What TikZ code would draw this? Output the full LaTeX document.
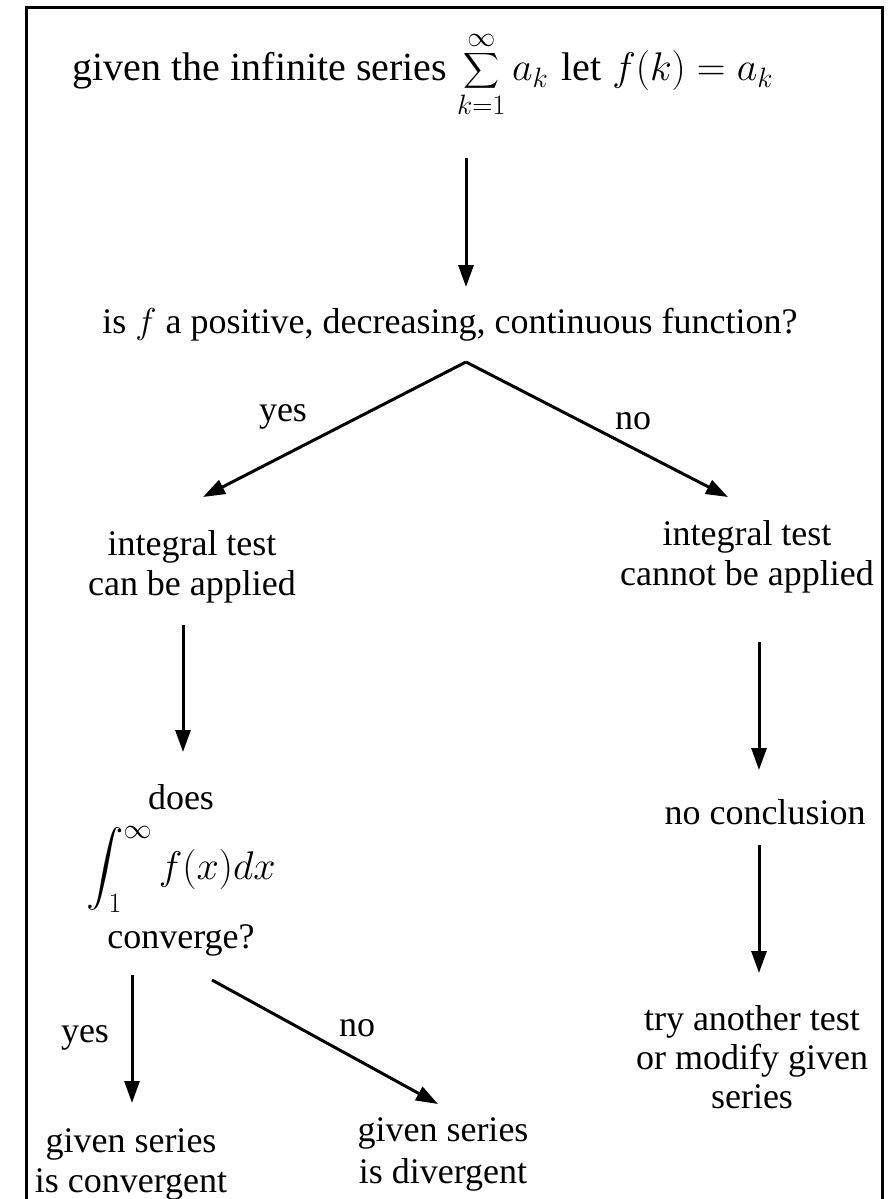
\RequirePackage{fix-cm}
\documentclass[tikz,border=0pt]{standalone}
\usepackage{amsmath}
\usepackage{fontspec}
\setmainfont{Liberation Serif}
\usepackage{tikz}
\usetikzlibrary{arrows.meta, positioning, calc}
\newcommand{\bigint}{\mathop{\vcenter{\hbox{\scalebox{1.5}{$\displaystyle\int$}}}}\nolimits}
\tikzset{
  txt/.style={inner sep=0pt, anchor=base, align=center,
    font=\fontsize{36}{40}\selectfont},
  arrow/.style={-{Triangle[length=22pt, width=15pt]}, line width=3pt, color=black},
  frame/.style={line width=3pt, color=black}
}

\begin{document}
\begin{tikzpicture}[x=1pt, y=-1pt]
  \useasboundingbox (0,0) rectangle (895,1199);
  \draw[frame] (26,1199) -- (26,8) -- (882,8) -- (882,1199);

  % question chain
  \node[txt, font=\fontsize{40}{44}\selectfont] (top) at (423,81) {given the infinite series $\displaystyle\sum_{k=1}^{\infty} a_k$\hspace{13pt}let\hspace{11pt}$f(k)=a_k$};
  \node[txt] (q) at (450,333) {is $f$ a positive, decreasing, continuous function?};
  \coordinate (split) at (466,362);

  \node[txt] (yes1) at (283,421) {yes};
  \node[txt] (no1) at (633,429) {no};
  \node[txt] (lint) at (192,595) {integral test\\can be applied};
  \node[txt] (rint) at (747,585) {integral test\\cannot be applied};

  \node[txt] (conv) at (181,948) {does\\[16pt]{\fontsize{40}{44}\selectfont$\displaystyle\bigint_{\kern-15pt 1}^\infty f(x)dx$}\\[11pt]converge?};
  \node[txt] (nocon) at (765,824) {no conclusion};
  \node[txt, font=\fontsize{36}{39}\selectfont] (other) at (752,1108) {try another test\\or modify given\\series};

  \node[txt] (yes2) at (85,1042) {yes};
  \node[txt] (no2) at (357,1036) {no};
  \node[txt] (cvg) at (131,1192) {given series\\is convergent};
  \node[txt, font=\fontsize{36}{42}\selectfont] (dvg) at (443,1183) {given series\\is divergent};

  % connectors
  \draw[arrow] ($(top.base -| split)+(0,77)$) -- ($(q.base -| split)+(0,-46)$);
  \draw[arrow] (split) -- ($(lint.base)+(11,-98)$);
  \draw[arrow] (split) -- ($(rint.base)+(-19,-88)$);
  \draw[arrow] ($(lint.base)+(-9,30)$) -- ($(conv.base)+(2,-196)$);
  \draw[arrow] ($(rint.base)+(12,57)$) -- ($(nocon.base)+(-6,-54)$);
  \draw[arrow] ($(nocon.base)+(-6,21)$) -- ($(other.base)+(7,-135)$);
  \draw[arrow] ($(conv.base)+(-49,27)$) -- ($(cvg.base)+(1,-89)$);
  \draw[arrow] ($(conv.base)+(31,32)$) -- ($(dvg.base)+(-5,-79)$);
\end{tikzpicture}
\end{document}
